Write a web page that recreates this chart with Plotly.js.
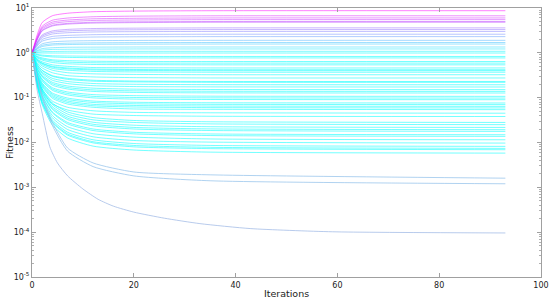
<!DOCTYPE html>
<html>
<head>
<meta charset="utf-8">
<script src="https://cdn.plot.ly/plotly-3.0.1.min.js"></script>
<style>html,body{margin:0;padding:0;background:#fff;}#chart{width:550px;height:301px;}</style>
</head>
<body>
<div id="chart"></div>
<script>
// Iteration grid at which the curves were read
const iterGrid = [0, 1, 2, 4, 7, 12, 20, 35, 93];

// Curves that rise above 1
const risingCurves = [
  [1, 2.48, 4.75, 6.72, 7.65, 8.26, 8.53, 8.7, 8.7],
  [1, 2.22, 3.93, 5.33, 5.97, 6.38, 6.58, 6.7, 6.7],
  [1, 2.12, 3.63, 4.84, 5.38, 5.74, 5.89, 6.0, 6.0],
  [1, 2.05, 3.41, 4.48, 4.96, 5.27, 5.40, 5.5, 5.5],
  [1, 1.97, 3.19, 4.12, 4.54, 4.81, 4.92, 5.0, 5.0],
  [1, 1.93, 3.09, 3.97, 4.37, 4.61, 4.72, 4.8, 4.8],
  [1, 1.71, 2.51, 3.08, 3.33, 3.48, 3.55, 3.6, 3.6],
  [1, 1.65, 2.36, 2.86, 3.08, 3.21, 3.27, 3.3, 3.3],
  [1, 1.59, 2.20, 2.63, 2.81, 2.92, 2.97, 3.0, 3.0],
  [1, 1.49, 1.99, 2.32, 2.45, 2.54, 2.58, 2.6, 2.6],
  [1, 1.42, 1.82, 2.08, 2.19, 2.25, 2.28, 2.3, 2.3],
  [1, 1.31, 1.59, 1.76, 1.83, 1.87, 1.89, 1.9, 1.9],
  [1, 1.25, 1.47, 1.59, 1.64, 1.67, 1.69, 1.7, 1.7],
  [1, 1.21, 1.38, 1.49, 1.53, 1.55, 1.56, 1.57, 1.57],
  [1, 1.13, 1.24, 1.30, 1.33, 1.34, 1.35, 1.35, 1.35],
  [1, 1.09, 1.15, 1.19, 1.20, 1.21, 1.22, 1.22, 1.22],
  [1, 1.03, 1.06, 1.07, 1.08, 1.08, 1.08, 1.08, 1.08]
];

// Curves that fall below 1
const fallingCurves = [
  [1, 0.995, 0.993, 0.991, 0.99, 0.99, 0.99, 0.99, 0.99],
  [1, 0.93, 0.89, 0.86, 0.85, 0.84, 0.83, 0.83, 0.83],
  [1, 0.90, 0.85, 0.81, 0.79, 0.78, 0.77, 0.77, 0.77],
  [1, 0.84, 0.77, 0.70, 0.67, 0.65, 0.64, 0.64, 0.64],
  [1, 0.81, 0.73, 0.66, 0.62, 0.60, 0.59, 0.59, 0.59],
  [1, 0.78, 0.69, 0.61, 0.57, 0.55, 0.545, 0.54, 0.54],
  [1, 0.73, 0.63, 0.54, 0.50, 0.47, 0.465, 0.46, 0.46],
  [1, 0.71, 0.59, 0.50, 0.46, 0.435, 0.425, 0.42, 0.42],
  [1, 0.69, 0.58, 0.48, 0.44, 0.415, 0.405, 0.40, 0.40],
  [1, 0.67, 0.55, 0.45, 0.41, 0.385, 0.375, 0.37, 0.37],
  [1, 0.64, 0.51, 0.41, 0.36, 0.34, 0.33, 0.325, 0.325],
  [1, 0.60, 0.46, 0.36, 0.31, 0.29, 0.28, 0.275, 0.275],
  [1, 0.56, 0.41, 0.31, 0.27, 0.245, 0.235, 0.23, 0.23],
  [1, 0.55, 0.40, 0.30, 0.256, 0.233, 0.225, 0.22, 0.22],
  [1, 0.52, 0.37, 0.27, 0.229, 0.207, 0.199, 0.195, 0.194],
  [1, 0.50, 0.35, 0.245, 0.206, 0.185, 0.177, 0.174, 0.173],
  [1, 0.47, 0.32, 0.22, 0.182, 0.163, 0.155, 0.152, 0.151],
  [1, 0.45, 0.30, 0.205, 0.168, 0.149, 0.142, 0.139, 0.138],
  [1, 0.44, 0.29, 0.19, 0.156, 0.138, 0.131, 0.128, 0.127],
  [1, 0.41, 0.26, 0.167, 0.134, 0.117, 0.111, 0.108, 0.107],
  [1, 0.39, 0.25, 0.156, 0.124, 0.107, 0.101, 0.099, 0.098],
  [1, 0.38, 0.235, 0.146, 0.115, 0.099, 0.093, 0.091, 0.090],
  [1, 0.36, 0.213, 0.127, 0.098, 0.084, 0.079, 0.077, 0.076],
  [1, 0.345, 0.203, 0.119, 0.091, 0.078, 0.073, 0.071, 0.070],
  [1, 0.33, 0.192, 0.111, 0.084, 0.071, 0.067, 0.065, 0.064],
  [1, 0.32, 0.183, 0.104, 0.078, 0.066, 0.062, 0.060, 0.059],
  [1, 0.31, 0.173, 0.097, 0.072, 0.061, 0.056, 0.055, 0.054],
  [1, 0.29, 0.156, 0.084, 0.061, 0.051, 0.047, 0.046, 0.045],
  [1, 0.27, 0.141, 0.073, 0.053, 0.043, 0.040, 0.0385, 0.038],
  [1, 0.31, 0.156, 0.076, 0.048, 0.036, 0.031, 0.029, 0.028],
  [1, 0.30, 0.147, 0.070, 0.043, 0.032, 0.028, 0.026, 0.025],
  [1, 0.28, 0.136, 0.063, 0.0385, 0.0283, 0.0243, 0.0225, 0.0217],
  [1, 0.27, 0.128, 0.058, 0.035, 0.0255, 0.0217, 0.0201, 0.0193],
  [1, 0.264, 0.123, 0.055, 0.0324, 0.0235, 0.020, 0.0185, 0.0177],
  [1, 0.25, 0.112, 0.048, 0.028, 0.020, 0.0169, 0.0155, 0.0149],
  [1, 0.243, 0.107, 0.046, 0.026, 0.0185, 0.0156, 0.0143, 0.0137],
  [1, 0.23, 0.098, 0.040, 0.0225, 0.0157, 0.0132, 0.012, 0.0115],
  [1, 0.217, 0.090, 0.0356, 0.0195, 0.0134, 0.0111, 0.0102, 0.0097],
  [1, 0.205, 0.082, 0.0315, 0.0169, 0.0115, 0.0095, 0.0086, 0.0082],
  [1, 0.198, 0.078, 0.029, 0.0155, 0.0104, 0.0086, 0.0078, 0.0074],
  [1, 0.194, 0.075, 0.0278, 0.0146, 0.0098, 0.008, 0.0073, 0.0069],
  [1, 0.183, 0.069, 0.0245, 0.0126, 0.0083, 0.0068, 0.0061, 0.0058]
];

// Deep curves
const deepCurves = [
  [1, 0.3, 0.11, 0.028, 0.0075, 0.0035, 0.0022, 0.0019, 0.0016],
  [1, 0.28, 0.10, 0.024, 0.0064, 0.0029, 0.0018, 0.0014, 0.0012]
];
const deepestIter = [0, 1, 2, 3.5, 5, 7, 10, 13, 16, 20, 26, 33, 43, 59, 93];
const deepestCurve = [1, 0.15, 0.045, 0.008, 0.0035, 0.0018, 0.00092, 0.00054, 0.00038, 0.00028, 0.000205, 0.000155, 0.00012, 0.000102, 0.000096];

// Axis tick labels
const xTicks = [0, 20, 40, 60, 80, 100];
const yTickVals = [1e-5, 1e-4, 1e-3, 1e-2, 1e-1, 1, 10];
const yTickText = ['10<sup>-5</sup>', '10<sup>-4</sup>', '10<sup>-3</sup>', '10<sup>-2</sup>', '10<sup>-1</sup>', '10<sup>0</sup>', '10<sup>1</sup>'];

function coolColor(finalVal) {
  let t = Math.log10(finalVal) / 0.94;
  t = Math.max(0, Math.min(1, t));
  const r = Math.round(255 * t), g = Math.round(255 * (1 - t));
  return 'rgb(' + r + ',' + g + ',255)';
}

const traces = [];
function addLine(xs, ys, color, op) {
  traces.push({
    x: xs, y: ys, type: 'scatter', mode: 'lines',
    line: {color: color, width: 1, shape: 'spline', smoothing: 0.6},
    opacity: op, hoverinfo: 'skip', showlegend: false
  });
}
fallingCurves.forEach(c => addLine(iterGrid, c, coolColor(c[c.length - 1]), 0.55));
deepCurves.forEach(c => addLine(iterGrid, c, 'rgb(150,195,235)', 0.75));
addLine(deepestIter, deepestCurve, 'rgb(160,185,230)', 0.75);
risingCurves.slice().reverse().forEach(c => addLine(iterGrid, c, coolColor(c[c.length - 1]), 0.5));

const axisCommon = {
  showline: true, linecolor: '#a0a0a0', linewidth: 1, mirror: 'allticks',
  ticks: 'inside', ticklen: 4, tickcolor: '#a0a0a0', showgrid: false, zeroline: false,
  tickfont: {family: 'DejaVu Sans', size: 8, color: '#222'}
};

const layout = {
  width: 550, height: 301,
  margin: {l: 32, r: 9, t: 8, b: 24},
  paper_bgcolor: '#fff', plot_bgcolor: '#fff',
  xaxis: Object.assign({}, axisCommon, {
    range: [-0.0001, 100.0001], tickvals: xTicks, ticktext: xTicks.map(String),
    title: {text: 'Iterations', font: {family: 'DejaVu Sans', size: 9.5, color: '#222'}, standoff: 1}
  }),
  yaxis: Object.assign({}, axisCommon, {
    type: 'log', range: [-5, 1], tickvals: yTickVals, ticktext: yTickText,
    minor: {ticks: 'inside', ticklen: 2, tickcolor: '#b0b0b0', dtick: 'D1'}
  }),
  annotations: [{
    text: 'Fitness', xref: 'paper', yref: 'paper', x: -0.044, y: 0.5,
    xanchor: 'center', yanchor: 'middle', textangle: -90, showarrow: false,
    font: {family: 'DejaVu Sans', size: 9.5, color: '#222'}
  }]
};

Plotly.newPlot('chart', traces, layout, {displayModeBar: false, staticPlot: true});
</script>
</body>
</html>
